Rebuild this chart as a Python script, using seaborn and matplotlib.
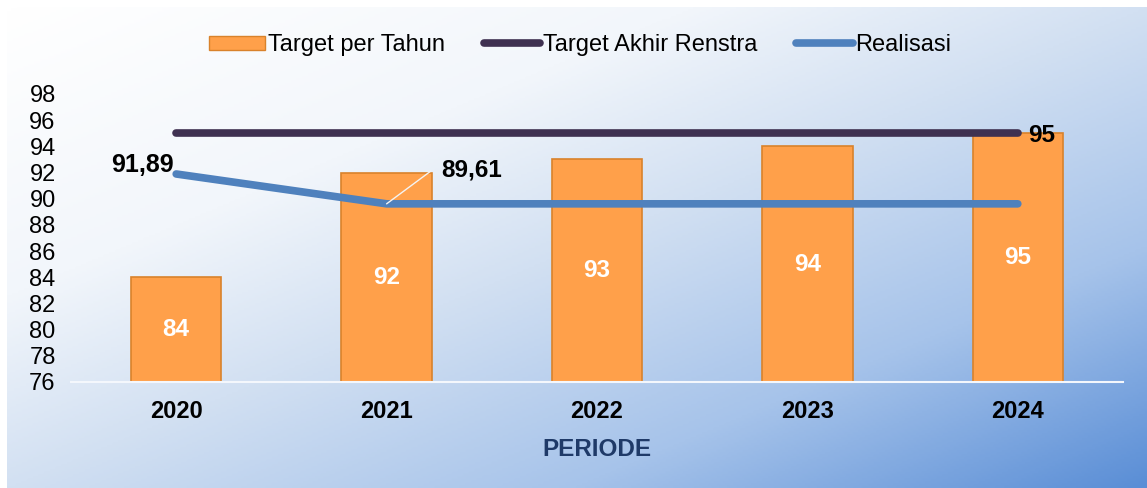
import numpy as np
import pandas as pd
import matplotlib
matplotlib.use("Agg")
import matplotlib.pyplot as plt
import seaborn as sns
from matplotlib.colors import LinearSegmentedColormap
from matplotlib.patches import Patch
from matplotlib.lines import Line2D

# Data
years = ["2020", "2021", "2022", "2023", "2024"]
target_tahun = [84, 92, 93, 94, 95]
target_renstra = [95, 95, 95, 95, 95]
realisasi = [91.89, 89.61, 89.61, 89.61, 89.61]
y_ticks = list(range(76, 100, 2))

df = pd.DataFrame({"Tahun": years, "Target": target_tahun})

sns.set_theme(style="white")
plt.rcParams["font.family"] = ["Liberation Sans", "DejaVu Sans"]
plt.rcParams["text.color"] = "black"
plt.rcParams["xtick.color"] = "black"
plt.rcParams["ytick.color"] = "black"

fig = plt.figure(figsize=(11.47, 4.88), dpi=100)

# gradient background
bg = fig.add_axes([7 / 1147, 0, 1 - 7 / 1147, 1 - 7 / 488], zorder=0)
cmap = LinearSegmentedColormap.from_list(
    "bg", [(0, "#ffffff"), (0.3, "#f2f6fb"), (0.5, "#d2e0f2"),
           (0.75, "#a6c3ea"), (1, "#5a8ed6")])
gx, gy = np.meshgrid(np.linspace(0, 1, 400), np.linspace(0, 1, 200))
bg.imshow((gx + gy) / 2, cmap=cmap, aspect="auto", extent=[0, 1, 1, 0],
          vmin=0, vmax=1)
bg.axis("off")

ax = fig.add_axes([71 / 1147, 1 - 382 / 488, (1123 - 71) / 1147, (382 - 94) / 488],
                  zorder=1)
ax.patch.set_alpha(0)

sns.barplot(data=df, x="Tahun", y="Target", color="#ffa04a", width=0.43,
            edgecolor="#d9822b", linewidth=1.2, saturation=1, ax=ax, zorder=2)

xs = np.arange(len(years))
sns.lineplot(x=xs, y=target_renstra, color="#3f3151", linewidth=5.5, ax=ax,
             solid_capstyle="round", zorder=3)
sns.lineplot(x=xs, y=realisasi, color="#4f81bd", linewidth=5.5, ax=ax,
             solid_capstyle="round", zorder=3)

ax.set_ylim(76, 98)
ax.set_xlim(-0.5, len(years) - 0.5)
ax.set_yticks(y_ticks)
ax.set_yticklabels([str(t) for t in y_ticks], fontsize=17)
ax.tick_params(axis="y", length=0, pad=11)
ax.tick_params(axis="x", length=0, pad=13)
ax.set_xticks(xs)
ax.set_xticklabels(years, fontsize=17, fontweight="bold")
ax.set_xlabel("PERIODE", fontsize=17.5, fontweight="bold", color="#1f3a68",
              labelpad=11)
ax.set_ylabel("")
for s in ["top", "left", "right"]:
    ax.spines[s].set_visible(False)
ax.spines["bottom"].set_color("#f4f7fc")
ax.spines["bottom"].set_linewidth(1.5)

# bar labels
for i, v in enumerate(target_tahun):
    ax.text(i, (76 + v) / 2, str(v), ha="center", va="center", color="white",
            fontsize=17.5, fontweight="bold", zorder=4)

# line labels
ax.text(-0.01, realisasi[0] + 0.7, f"{realisasi[0]:.2f}".replace(".", ","),
        ha="right", va="center", fontsize=18, fontweight="bold", zorder=5)
ax.plot([1, 1.21], [realisasi[1], realisasi[1] + 2.5], color="#f4f4f4",
        linewidth=1, zorder=4)
ax.text(1.26, realisasi[1] + 2.6, f"{realisasi[1]:.2f}".replace(".", ","),
        ha="left", va="center", fontsize=17.5, fontweight="bold", zorder=5)
ax.text(4.05, target_renstra[-1] - 0.15, str(target_renstra[-1]), ha="left",
        va="center", fontsize=17.5, fontweight="bold", zorder=5)

handles = [
    Patch(facecolor="#ffa04a", edgecolor="#d9822b", label="Target per Tahun"),
    Line2D([0], [0], color="#3f3151", lw=5.5, solid_capstyle="round",
           label="Target Akhir Renstra"),
    Line2D([0], [0], color="#4f81bd", lw=5.5, solid_capstyle="round",
           label="Realisasi"),
]
fig.legend(handles=handles, loc="center", bbox_to_anchor=(580 / 1147, 1 - 45 / 488),
           ncol=3, frameon=False, fontsize=17, handlelength=2.4,
           handleheight=0.55, handletextpad=0.1, columnspacing=1.65)

fig.savefig("out.png", dpi=100)
